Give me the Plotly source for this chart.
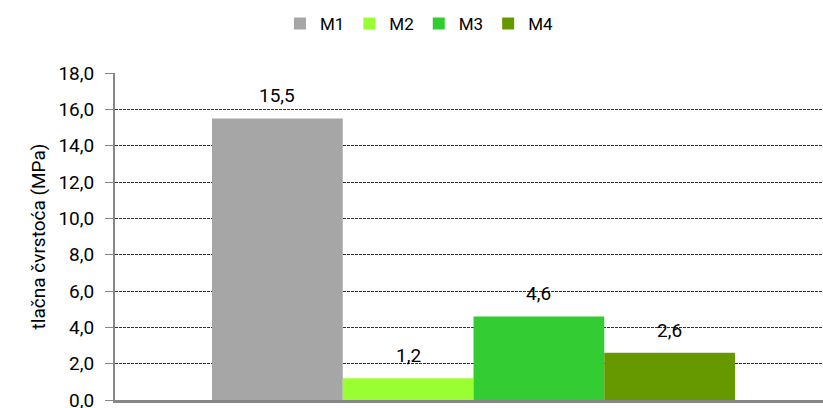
import plotly.graph_objects as go

series = ["M1", "M2", "M3", "M4"]
values = [15.5, 1.2, 4.6, 2.6]
colors = ["#A6A6A6", "#99FF33", "#33CC33", "#669900"]
category = [""]
y_title = "tlačna čvrstoća (MPa)"

FONT = "Roboto, Arial, sans-serif"
BARGAP = 0.2

fig = go.Figure()
for name, v, c in zip(series, values, colors):
    fig.add_trace(go.Bar(
        x=category, y=[v], name=name, marker=dict(color=c, line=dict(width=0)),
    ))

# data labels above the bars (positions derived from group layout)
n = len(series)
bw = (1 - BARGAP) / n
for i, v in enumerate(values):
    fig.add_annotation(
        x=(i - (n - 1) / 2) * bw, y=v, xref="x", yref="y",
        text=f"{v:.1f}".replace(".", ","), showarrow=False,
        yanchor="bottom", yshift=9,
        font=dict(size=19, color="#000000", family=FONT),
    )

fig.update_layout(
    width=823, height=408,
    margin=dict(l=115, r=0, t=73, b=8),
    paper_bgcolor="white", plot_bgcolor="white",
    barmode="group", bargap=BARGAP, bargroupgap=0,
    separators=",.",
    font=dict(family=FONT, size=19, color="#000000"),
    showlegend=True,
    legend=dict(orientation="h", x=0.43, xanchor="center", y=1.15, yanchor="middle",
                font=dict(size=17, family=FONT), traceorder="normal",
                itemclick=False, itemwidth=30),
    xaxis=dict(range=[-0.5484, 0.5346], showticklabels=False, showgrid=False,
               showline=True, linecolor="#868686", linewidth=3, ticks="",
               automargin=False),
    yaxis=dict(range=[0, 18], dtick=2, tickformat=".1f", showgrid=True,
               griddash="3px,1px", gridcolor="#333333", gridwidth=1,
               showline=True, linecolor="#868686", linewidth=2,
               ticks="outside", ticklen=8, tickcolor="#868686", zeroline=False,
               ticklabelstandoff=7, ticklabeloverflow="allow", automargin=False,
               title=dict(text=y_title, font=dict(size=19, family=FONT), standoff=8),
               tickfont=dict(size=19, family=FONT)),
)
fig.write_html("out.html", config={"displayModeBar": False},
               post_script="document.body.style.margin='0';document.body.style.overflow='hidden';")
